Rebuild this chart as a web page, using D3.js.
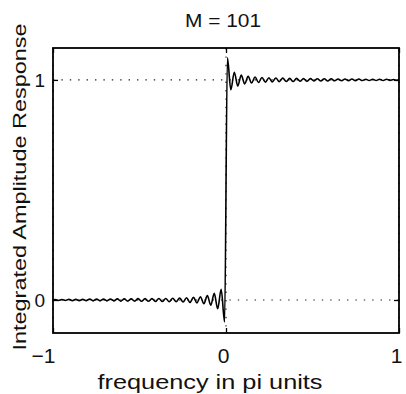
<!DOCTYPE html>
<html>
<head>
<meta charset="utf-8">
<script src="https://cdn.jsdelivr.net/npm/d3@7"></script>
<style>
  body { margin: 0; background: #fff; }
  text { font-family: "Liberation Sans", Arial, sans-serif; fill: #111; }
</style>
</head>
<body>
<div id="chart"></div>
<script>
// 1.0 data (frequency in pi units, integrated amplitude)
var titleText = "M = 101";
var xLabelText = "frequency in pi units";
var yLabelText = "Integrated Amplitude Response";
var xTicks = [-1, 0, 1];
var xTickLabels = ["\u22121", "0", "1"];
var yTicks = [0, 1];
var yTickLabels = ["0", "1"];

// left half: small ripples around 0, growing toward the jump
var leftX = [-1.000, -0.988, -0.968, -0.948, -0.928, -0.908, -0.888, -0.868, -0.848, -0.828,
             -0.808, -0.788, -0.768, -0.748, -0.728, -0.708, -0.688, -0.668, -0.648, -0.628,
             -0.608, -0.588, -0.568, -0.548, -0.528, -0.508, -0.488, -0.468, -0.448, -0.428,
             -0.408, -0.388, -0.368, -0.348, -0.328, -0.308, -0.288, -0.268, -0.248, -0.228,
             -0.208, -0.188, -0.168, -0.148, -0.128, -0.108, -0.088, -0.068, -0.048, -0.028,
             -0.008];
var leftY = [0.000, 0.002, -0.002, 0.002, -0.002, 0.003, -0.003, 0.003, -0.003, 0.003,
             -0.003, 0.004, -0.004, 0.004, -0.004, 0.004, -0.004, 0.004, -0.004, 0.005,
             -0.005, 0.005, -0.005, 0.005, -0.005, 0.006, -0.006, 0.006, -0.006, 0.006,
             -0.007, 0.007, -0.007, 0.007, -0.008, 0.008, -0.008, 0.009, -0.009, 0.010,
             -0.011, 0.012, -0.013, 0.015, -0.017, 0.020, -0.024, 0.030, -0.040, 0.048,
             -0.100];

// right half: overshoot then ripples around 1
var rightX = [0.008, 0.028, 0.048, 0.068, 0.088, 0.108, 0.128, 0.148, 0.168, 0.188,
              0.208, 0.228, 0.248, 0.268, 0.288, 0.308, 0.328, 0.348, 0.368, 0.388,
              0.408, 0.428, 0.448, 0.468, 0.488, 0.508, 0.528, 0.548, 0.568, 0.588,
              0.608, 0.628, 0.648, 0.668, 0.688, 0.708, 0.728, 0.748, 0.768, 0.788,
              0.808, 0.828, 0.848, 0.868, 0.888, 0.908, 0.928, 0.948, 0.968, 0.988,
              1.000];
var rightY = [1.100, 0.955, 1.035, 0.972, 1.022, 0.982, 1.016, 0.986, 1.013, 0.988,
              1.011, 0.990, 1.010, 0.991, 1.009, 0.992, 1.008, 0.993, 1.007, 0.993,
              1.007, 0.994, 1.006, 0.994, 1.006, 0.995, 1.005, 0.995, 1.005, 0.995,
              1.005, 0.996, 1.004, 0.996, 1.004, 0.996, 1.004, 0.996, 1.004, 0.997,
              1.003, 0.997, 1.003, 0.997, 1.003, 0.997, 1.003, 0.998, 1.002, 0.998,
              1.000];

// 2.0 layout
var W = 406, H = 394;
var margin = {top: 48, right: 7, bottom: 61, left: 53};
var width = W - margin.left - margin.right;
var height = H - margin.top - margin.bottom;

var x = d3.scaleLinear().domain([-1, 1]).range([0, width]);
var y = d3.scaleLinear().domain([-0.15, 1.145]).range([height, 0]);

var svg = d3.select("#chart").append("svg")
    .attr("width", W)
    .attr("height", H);
var g = svg.append("g")
    .attr("transform", "translate(" + margin.left + "," + margin.top + ")");

// 3.0 dotted grid at the ticks
var grid = g.append("g").attr("class", "grid")
    .style("stroke", "#222")
    .style("stroke-width", "1.2px")
    .style("stroke-dasharray", "1.4,7");
grid.selectAll(".gx").data(xTicks).enter().append("line")
    .attr("x1", function(d) { return x(d); })
    .attr("x2", function(d) { return x(d); })
    .attr("y1", 0).attr("y2", height);
grid.selectAll(".gy").data(yTicks).enter().append("line")
    .attr("y1", function(d) { return y(d); })
    .attr("y2", function(d) { return y(d); })
    .attr("x1", 0).attr("x2", width);

// 4.0 the curve
var points = [];
leftX.forEach(function(d, i) { points.push({x: d, y: leftY[i]}); });
rightX.forEach(function(d, i) { points.push({x: d, y: rightY[i]}); });

var line = d3.line()
    .curve(d3.curveMonotoneX)
    .x(function(d) { return x(d.x); })
    .y(function(d) { return y(d.y); });

g.append("path")
    .datum(points)
    .attr("d", line)
    .style("fill", "none")
    .style("stroke", "#000")
    .style("stroke-width", "1.6px");

// 5.0 axes: inner ticks on all four sides, labels bottom and left
var fmtX = function(d) { return xTickLabels[xTicks.indexOf(d)]; };
var fmtY = function(d) { return yTickLabels[yTicks.indexOf(d)]; };

var axB = g.append("g").attr("transform", "translate(0," + height + ")")
    .call(d3.axisBottom(x).tickValues(xTicks).tickFormat(fmtX)
      .tickSizeInner(-5).tickSizeOuter(0).tickPadding(15));
var axT = g.append("g")
    .call(d3.axisTop(x).tickValues(xTicks).tickFormat("")
      .tickSizeInner(-5).tickSizeOuter(0));
var axL = g.append("g")
    .call(d3.axisLeft(y).tickValues(yTicks).tickFormat(fmtY)
      .tickSizeInner(-5).tickSizeOuter(0).tickPadding(8));
var axR = g.append("g").attr("transform", "translate(" + width + ",0)")
    .call(d3.axisRight(y).tickValues(yTicks).tickFormat("")
      .tickSizeInner(-5).tickSizeOuter(0));

[axB, axT, axL, axR].forEach(function(a) {
  a.select(".domain").remove();
  a.selectAll("line").style("stroke", "#000").style("stroke-width", "1.3px");
});
axB.selectAll("text")
    .style("font-size", "21px")
    .attr("fill", "#111")
    .attr("text-anchor", function(d) { return d === -1 ? "end" : "middle"; })
    .attr("x", function(d) { return d === -1 ? 2 : -3; });
axL.selectAll("text")
    .style("font-size", "19px")
    .attr("fill", "#111");

// plot box
g.append("rect")
    .attr("width", width)
    .attr("height", height)
    .style("fill", "none")
    .style("stroke", "#000")
    .style("stroke-width", "1.8px");

// 6.0 title and axis labels
svg.append("text")
    .attr("x", margin.left + x(0) - 3)
    .attr("y", 27)
    .attr("text-anchor", "middle")
    .attr("textLength", 76)
    .attr("lengthAdjust", "spacingAndGlyphs")
    .style("font-size", "19px")
    .text(titleText);

svg.append("text")
    .attr("x", 210)
    .attr("y", 389)
    .attr("text-anchor", "middle")
    .attr("textLength", 225)
    .attr("lengthAdjust", "spacingAndGlyphs")
    .style("font-size", "21px")
    .text(xLabelText);

svg.append("text")
    .attr("transform", "translate(26,187) rotate(-90)")
    .attr("text-anchor", "middle")
    .attr("textLength", 327)
    .attr("lengthAdjust", "spacingAndGlyphs")
    .style("font-size", "19px")
    .text(yLabelText);
</script>
</body>
</html>
